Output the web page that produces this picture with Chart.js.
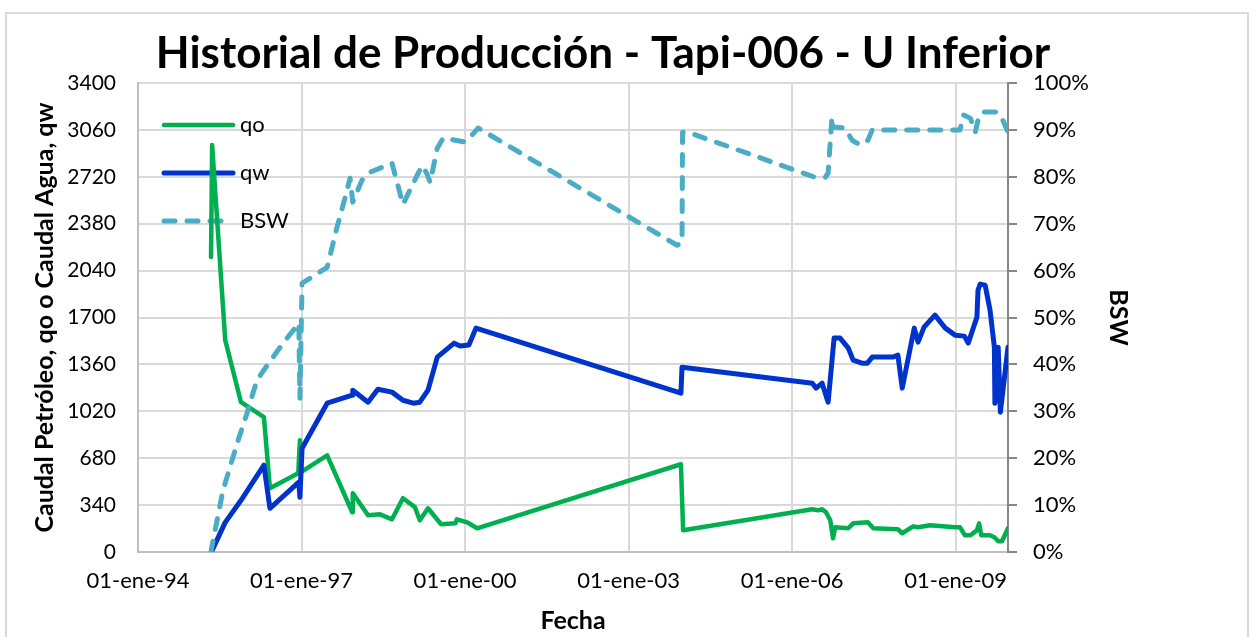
<!DOCTYPE html>
<html>
<head>
<meta charset="utf-8">
<script src="https://cdn.jsdelivr.net/npm/chart.js@4.4.1/dist/chart.umd.min.js"></script>
<style>
  body { margin: 0; background: #fff; }
  #wrap { position: relative; width: 1257px; height: 637px; overflow: hidden; }
  #frame { position: absolute; left: 5px; top: 12px; width: 1244px; height: 640px; border: 2px solid #d9d9d9; box-sizing: border-box; }
  canvas { position: absolute; left: 0; top: 0; }
</style>
</head>
<body>
<div id="wrap">
  <div id="frame"></div>
  <canvas id="chart" width="1257" height="637"></canvas>
</div>
<script>
const TITLE = 'Historial de Producción - Tapi-006 - U Inferior';

const xTickYears = [1994, 1997, 2000, 2003, 2006, 2009];
const xTickLabels = ['01-ene-94', '01-ene-97', '01-ene-00', '01-ene-03', '01-ene-06', '01-ene-09'];

// qo - caudal de petroleo
const qoYears = [1995.34, 1995.36, 1995.60, 1995.89, 1996.31, 1996.42, 1996.94, 1996.97, 1996.99, 1997.47, 1997.93, 1997.94, 1998.22, 1998.44, 1998.66, 1998.86, 1999.08, 1999.17, 1999.32, 1999.56, 1999.82, 1999.85, 2000.04, 2000.22, 2003.96, 2004.00, 2006.37, 2006.48, 2006.55, 2006.62, 2006.70, 2006.75, 2006.79, 2007.03, 2007.12, 2007.39, 2007.49, 2007.94, 2008.02, 2008.22, 2008.31, 2008.53, 2008.99, 2009.08, 2009.17, 2009.27, 2009.39, 2009.43, 2009.47, 2009.63, 2009.71, 2009.78, 2009.85, 2009.96];
const qoValues = [2138, 2950, 1536, 1086, 977, 462, 571, 810, 579, 701, 288, 426, 266, 273, 237, 390, 325, 230, 317, 201, 208, 237, 215, 172, 636, 158, 310, 302, 310, 288, 230, 99, 179, 172, 208, 215, 172, 165, 136, 186, 179, 194, 179, 179, 121, 121, 157, 208, 121, 121, 107, 78, 78, 172];

// qw - caudal de agua
const qwYears = [1995.36, 1995.60, 1995.89, 1996.31, 1996.42, 1996.95, 1996.97, 1997.01, 1997.47, 1997.93, 1997.94, 1998.22, 1998.40, 1998.66, 1998.86, 1999.05, 1999.17, 1999.32, 1999.49, 1999.80, 1999.91, 2000.07, 2000.20, 2003.96, 2003.98, 2006.37, 2006.44, 2006.55, 2006.66, 2006.77, 2006.88, 2007.03, 2007.12, 2007.28, 2007.38, 2007.47, 2007.85, 2007.94, 2008.02, 2008.24, 2008.31, 2008.42, 2008.62, 2008.81, 2008.99, 2009.16, 2009.23, 2009.39, 2009.41, 2009.45, 2009.54, 2009.63, 2009.71, 2009.72, 2009.78, 2009.82, 2009.96];
const qwValues = [12, 215, 375, 629, 317, 506, 397, 752, 1079, 1137, 1173, 1086, 1180, 1159, 1100, 1079, 1086, 1173, 1413, 1514, 1493, 1500, 1623, 1151, 1340, 1224, 1188, 1224, 1086, 1551, 1551, 1478, 1391, 1369, 1369, 1413, 1413, 1427, 1188, 1623, 1521, 1630, 1717, 1623, 1572, 1565, 1514, 1703, 1899, 1942, 1935, 1754, 1485, 1079, 1485, 1013, 1485];

// BSW en %
const bswYears = [1995.34, 1995.36, 1995.56, 1995.82, 1996.00, 1996.18, 1996.37, 1996.66, 1996.95, 1996.97, 1997.01, 1997.47, 1997.65, 1997.80, 1997.89, 1997.94, 1998.11, 1998.26, 1998.66, 1998.86, 1999.12, 1999.21, 1999.30, 1999.36, 1999.49, 1999.60, 1999.82, 2000.00, 2000.09, 2000.24, 2003.89, 2003.98, 2003.99, 2004.09, 2006.42, 2006.61, 2006.66, 2006.73, 2006.75, 2006.97, 2007.10, 2007.25, 2007.39, 2007.47, 2009.08, 2009.14, 2009.27, 2009.36, 2009.41, 2009.49, 2009.76, 2009.85, 2009.96];
const bswValues = [0, 1.4, 13.2, 23.2, 29.6, 36.6, 39.8, 44.5, 48.8, 32.8, 57.3, 60.7, 69.2, 75.6, 79.7, 74.6, 79.3, 81.0, 82.9, 74.1, 80.3, 82.4, 80.7, 78.8, 86.1, 88.3, 87.8, 87.4, 88.4, 90.4, 65.4, 66.1, 89.5, 89.5, 79.9, 79.9, 80.8, 92.7, 90.6, 90.4, 87.8, 86.8, 87.8, 90.0, 90.0, 93.2, 92.5, 89.5, 92.1, 93.8, 93.8, 92.5, 89.5];

const FONT = 'Lato';
const pts = (xs, ys) => xs.map((x, i) => ({ x, y: ys[i] }));

// titulo y leyenda dentro del area de grafico
const decor = {
    id: 'decor',
    beforeDatasetsDraw(chart) {
        const ctx = chart.ctx;
        const a = chart.chartArea;
        ctx.save();
        chart.data.datasets.forEach((ds, i) => {
            const y = a.top + 42 + i * 48;
            ctx.beginPath();
            ctx.strokeStyle = ds.borderColor;
            ctx.lineWidth = ds.borderWidth;
            ctx.lineCap = 'round';
            ctx.setLineDash(ds.borderDash || []);
            ctx.moveTo(a.left + 26, y);
            ctx.lineTo(a.left + 95, y);
            ctx.stroke();
            ctx.setLineDash([]);
            ctx.fillStyle = '#000';
            ctx.font = '22px ' + FONT;
            ctx.textBaseline = 'middle';
            ctx.textAlign = 'left';
            ctx.fillText(ds.label, a.left + 102, y);
        });
        ctx.restore();
    },
    afterDraw(chart) {
        const ctx = chart.ctx;
        ctx.save();
        ctx.fillStyle = '#000';
        ctx.font = 'bold 44px ' + FONT;
        ctx.textAlign = 'center';
        ctx.textBaseline = 'alphabetic';
        ctx.fillText(TITLE, 603, 68);
        ctx.restore();
    }
};

const tickFont = { family: FONT, size: 22 };
const axisTitleFont = { family: FONT, size: 25, weight: 'bold' };

new Chart(document.getElementById('chart'), {
    type: 'line',
    data: {
        datasets: [
            { label: 'qo', data: pts(qoYears, qoValues), yAxisID: 'y', borderColor: '#00b050', borderWidth: 4.5, order: 2 },
            { label: 'qw', data: pts(qwYears, qwValues), yAxisID: 'y', borderColor: '#0033cc', borderWidth: 5, order: 1 },
            { label: 'BSW', data: pts(bswYears, bswValues), yAxisID: 'y1', borderColor: '#4bacc6', borderWidth: 5, borderDash: [11, 12], order: 0 }
        ]
    },
    options: {
        responsive: false,
        animation: false,
        events: [],
        elements: {
            point: { radius: 0 },
            line: { tension: 0, fill: false, borderCapStyle: 'round', borderJoinStyle: 'round' }
        },
        layout: { padding: { top: 83, left: 0, right: 0, bottom: 0 } },
        plugins: { legend: { display: false }, tooltip: { enabled: false }, title: { display: false } },
        scales: {
            x: {
                type: 'linear',
                min: 1994,
                max: 2009.96,
                afterBuildTicks: s => { s.ticks = xTickYears.map(v => ({ value: v })); },
                afterFit: s => { s.height = 85; },
                ticks: {
                    padding: 16,
                    color: '#000',
                    font: tickFont,
                    maxRotation: 0,
                    callback: v => xTickLabels[xTickYears.indexOf(v)]
                },
                grid: { color: '#d9d9d9', lineWidth: 2, drawTicks: false },
                border: { color: '#bfbfbf', width: 2 },
                title: { display: true, text: 'Fecha', color: '#000', font: axisTitleFont, padding: { top: 0, bottom: 1 } }
            },
            y: {
                position: 'left',
                min: 0,
                max: 3400,
                afterFit: s => { s.width = 138; },
                ticks: { stepSize: 340, padding: 22, color: '#000', font: { family: FONT, size: 21 }, callback: v => String(v) },
                grid: { color: '#d9d9d9', lineWidth: 2, drawTicks: false },
                border: { color: '#bfbfbf', width: 2 },
                title: { display: true, text: 'Caudal Petróleo, qo o Caudal Agua, qw', color: '#000', font: axisTitleFont, padding: { top: 30, bottom: 0 } }
            },
            y1: {
                position: 'right',
                min: 0,
                max: 100,
                afterFit: s => { s.width = 249; },
                ticks: { stepSize: 10, padding: 16, color: '#000', font: tickFont, callback: v => v + '%' },
                grid: { drawOnChartArea: false, drawTicks: true, tickLength: 9, color: '#868686', lineWidth: 2 },
                border: { color: '#868686', width: 2 },
                title: { display: true, text: 'BSW', color: '#000', font: axisTitleFont, padding: { top: 124, bottom: 0 } }
            }
        }
    },
    plugins: [decor]
});
</script>
</body>
</html>
